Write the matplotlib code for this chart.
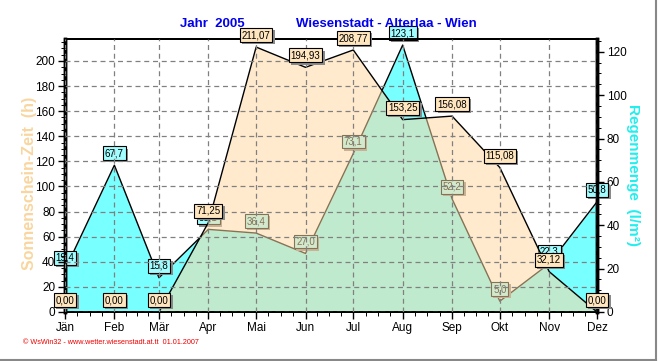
import numpy as np
import matplotlib
matplotlib.use("Agg")
import matplotlib.pyplot as plt
import matplotlib.patheffects as pe
from matplotlib.lines import Line2D
from matplotlib.ticker import MultipleLocator, FixedLocator
from datetime import date

plt.rcParams["font.family"] = ["Liberation Sans", "DejaVu Sans"]

# --------- DATA -----------
months = ["Jän", "Feb", "Mär", "Apr", "Mai", "Jun",
          "Jul", "Aug", "Sep", "Okt", "Nov", "Dez"]
# position of each month = days since 1 Jan
month_days = [(date(2005, m, 1) - date(2005, 1, 1)).days for m in range(1, 13)]
sunshine = [0.00, 0.00, 0.00, 71.25, 211.07, 194.93,
            208.77, 153.25, 156.08, 115.08, 32.12, 0.00]
rain = [19.4, 67.7, 15.8, 38.1, 36.4, 27.0,
        73.1, 123.1, 52.2, 5.0, 22.3, 50.8]
# --------------------------

W, H = 661, 361
fig = plt.figure(figsize=(W / 100, H / 100), dpi=100)
ax1 = fig.add_axes([65 / W, 1 - 312 / H, (597 - 65) / W, 273 / H])
ax2 = ax1.twinx()

# rain goes on the bottom axes (ticks right), sunshine on top (ticks left)
ax1.yaxis.tick_right()
ax1.yaxis.set_label_position("right")
ax2.yaxis.tick_left()
ax2.yaxis.set_label_position("left")

cyan = (120 / 255, 1.0, 1.0)
sun_col = (1.0, 217 / 255, 161 / 255)

ax1.fill_between(month_days, rain, 0, color=cyan, lw=0, zorder=1)
ax1.plot(month_days, rain, color="black", lw=1, zorder=2)
ax2.fill_between(month_days, sunshine, 0, color=sun_col, alpha=0.53, lw=0, zorder=1)
ax2.plot(month_days, sunshine, color="black", lw=1, zorder=2)


def tag(ax, x, y, text, face):
    t = ax.annotate(text, (x, y), xytext=(0, 8.6), textcoords="offset points",
                    ha="center", va="center", fontsize=7, color="black",
                    bbox=dict(boxstyle="square,pad=0.2", fc=face, ec="black", lw=0.8),
                    zorder=5, annotation_clip=False)
    # grey drop shadow behind the box
    t.get_bbox_patch().set_path_effects([
        pe.SimplePatchShadow(offset=(1.6, -1.6), shadow_rgbFace="#8a8a8a", alpha=1),
        pe.Normal()])


for x, v in zip(month_days, rain):
    tag(ax1, x, v, f"{v:.1f}".replace(".", ","), "#a2fdff")
for x, v in zip(month_days, sunshine):
    tag(ax2, x, v, f"{v:.2f}".replace(".", ","), "#ffe6bf")

ax1.set_xlim(month_days[0], month_days[-1])
ax1.set_ylim(0, 125.9)
ax2.set_ylim(0, 217.5)

ax1.set_xticks(month_days, months)
minor_x = np.interp(np.arange(0, 11.01, 0.25), np.arange(12), month_days)
ax1.xaxis.set_minor_locator(FixedLocator(minor_x))
ax1.yaxis.set_major_locator(MultipleLocator(20))
ax1.yaxis.set_minor_locator(MultipleLocator(5))
ax2.yaxis.set_major_locator(MultipleLocator(20))
ax2.yaxis.set_minor_locator(MultipleLocator(5))

for ax in (ax1, ax2):
    ax.tick_params(which="major", length=5, width=1, direction="out",
                   labelsize=8.5, pad=2)
    ax.tick_params(which="minor", length=3, width=0.7, direction="out")
    ax.spines["left"].set_linewidth(2.5)
    ax.spines["right"].set_linewidth(2.5)
    ax.spines["top"].set_linewidth(1.4)
    ax.spines["bottom"].set_linewidth(1.4)

# grid above the fills, drawn from the top axes
ax2.xaxis.set_visible(True)
ax2.tick_params(axis="x", which="both", bottom=False, top=False,
                labelbottom=False, labeltop=False)
ax2.set_axisbelow(False)
ax2.grid(True, which="major", ls=(0, (4, 3)), color="#808080", lw=0.9)

fig.text(180 / W, 1 - 24 / H, "Jahr  2005", color="#0000ee", fontsize=9.5,
         fontweight="bold", va="center", ha="left")
fig.text(296 / W, 1 - 24 / H, "Wiesenstadt - Alterlaa - Wien", color="#0000ee",
         fontsize=9.5, fontweight="bold", va="center", ha="left")

fig.text(30 / W, 1 - 183 / H, "Sonnenschein-Zeit  (h)", color="#f9d6a0",
         fontsize=11.5, fontweight="bold", rotation=90, va="center", ha="center")
fig.text(633 / W, 1 - 175 / H, "Regenmenge  (l/m²)", color="#22eeee",
         fontsize=11, fontweight="bold", rotation=-90, va="center", ha="center")

fig.text(23 / W, 1 - 342 / H, "© WsWin32 - www.wetter.wiesenstadt.at.tt  01.01.2007",
         color="#ee0000", fontsize=5.2, va="center", ha="left")

fig.add_artist(Line2D([655.5 / W, 655.5 / W], [0, 1], color="#888888", lw=1.5))
fig.add_artist(Line2D([0, 655.5 / W], [1.5 / H, 1.5 / H], color="#888888", lw=1.5))

fig.savefig("out.png", dpi=100)
